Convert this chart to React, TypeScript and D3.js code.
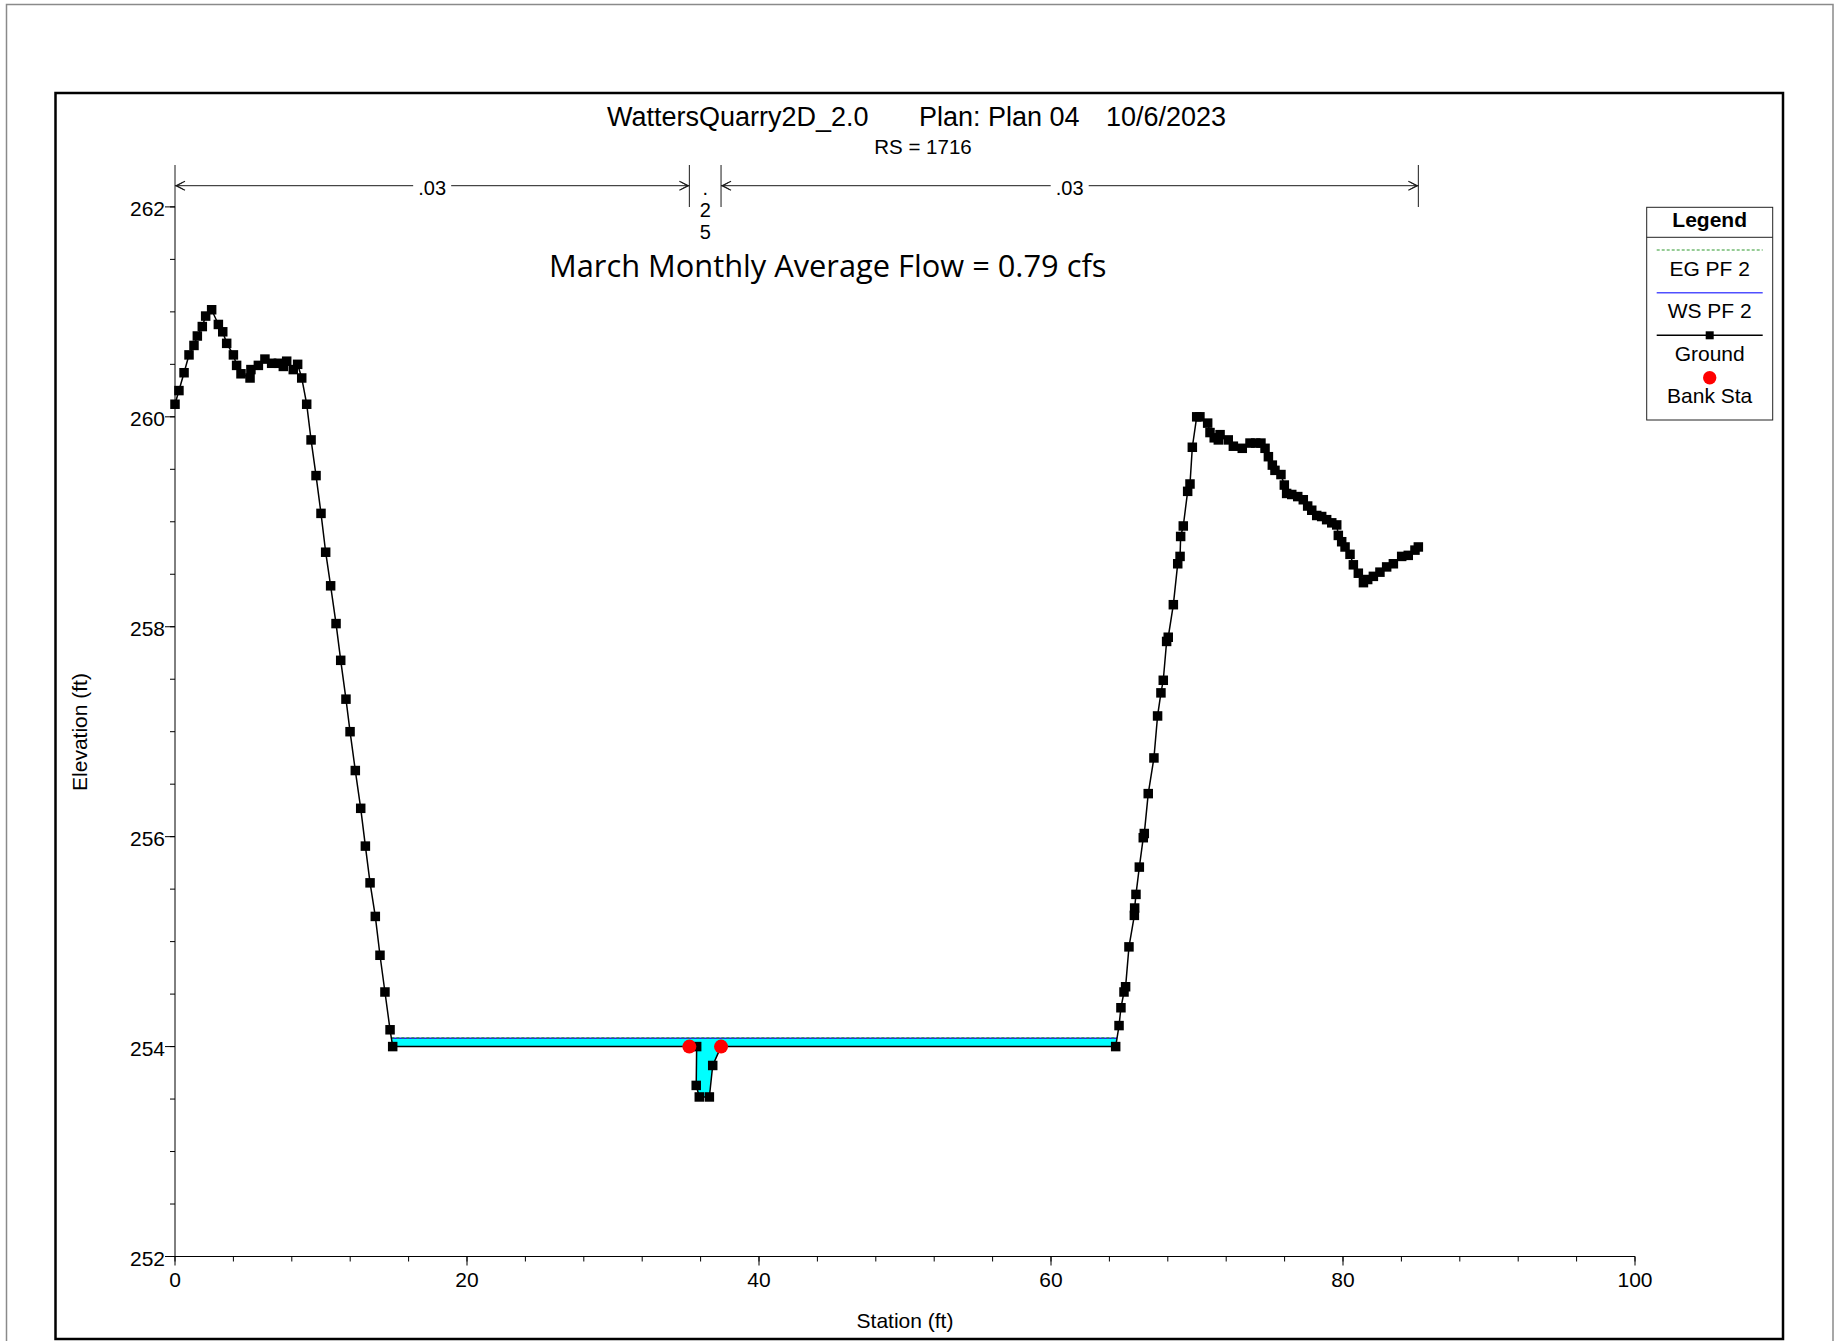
import React from 'react';
import * as d3 from 'd3';

// ---------- DATA ----------
const groundStation = [
  0.0, 0.27, 0.62, 0.96, 1.3, 1.53, 1.87, 2.1, 2.51, 2.97, 3.27, 3.54, 4.0, 4.22, 4.52, 5.14, 5.2, 5.71, 6.16, 6.62,
  7.08, 7.42, 7.65, 8.1, 8.4, 8.68, 9.02, 9.32, 9.66, 10.0, 10.32, 10.66, 11.03, 11.35, 11.71, 11.99, 12.35, 12.72,
  13.04, 13.36, 13.72, 14.04, 14.38, 14.73, 14.91,
  35.23, 35.73, 35.7, 35.91, 36.6, 36.83, 37.4,
  64.43, 64.66, 64.79, 65.0, 65.11, 65.34, 65.71, 65.73, 65.82, 66.05, 66.32, 66.39, 66.66, 67.05, 67.3, 67.53,
  67.69, 67.92, 68.03, 68.38, 68.68, 68.84, 68.88, 69.06, 69.36, 69.52, 69.68, 69.98, 70.2, 70.73, 70.89, 71.18,
  71.46, 71.58, 72.14, 72.49, 73.1, 73.63, 74.02, 74.38, 74.66, 74.89, 75.16, 75.34, 75.75, 75.98, 76.14, 76.49,
  76.9, 77.28, 77.58, 77.86, 78.2, 78.54, 78.88, 79.23, 79.57, 79.68, 79.91, 80.14, 80.48, 80.71, 81.05, 81.4,
  81.69, 82.08, 82.53, 82.99, 83.45, 84.02, 84.47, 84.93, 85.16,
];
const groundElev = [
  260.12, 260.25, 260.42, 260.59, 260.68, 260.77, 260.86, 260.96, 261.02, 260.88, 260.81, 260.7, 260.59, 260.49,
  260.41, 260.37, 260.45, 260.49, 260.55, 260.51, 260.51, 260.48, 260.53, 260.45, 260.5, 260.37, 260.12, 259.78,
  259.44, 259.08, 258.71, 258.39, 258.03, 257.68, 257.31, 257.0, 256.63, 256.27, 255.91, 255.56, 255.24, 254.87,
  254.52, 254.16, 254.0,
  254.0, 254.0, 253.63, 253.52, 253.52, 253.82, 254.0,
  254.0, 254.2, 254.37, 254.52, 254.57, 254.95, 255.25, 255.32, 255.45, 255.71, 255.99, 256.03, 256.41, 256.75,
  257.15, 257.37, 257.49, 257.86, 257.9, 258.21, 258.6, 258.67, 258.86, 258.96, 259.29, 259.36, 259.71, 260.0,
  260.0, 259.94, 259.85, 259.8, 259.78, 259.83, 259.78, 259.72, 259.7, 259.75, 259.75, 259.75, 259.7, 259.62,
  259.54, 259.49, 259.45, 259.35, 259.27, 259.26, 259.24, 259.21, 259.15, 259.11, 259.06, 259.05, 259.02, 258.99,
  258.97, 258.87, 258.81, 258.76, 258.69, 258.59, 258.51, 258.42, 258.45, 258.48, 258.52, 258.57, 258.6, 258.67,
  258.68, 258.73, 258.76,
];
const bankStations = [35.23, 37.4];
const bankElevs = [254.0, 254.0];
const wsElevation = 254.08;
const egElevation = 254.083;
const nBoundaries = [0, 35.23, 37.4, 85.16];
const nLabels = ['.03', '.25', '.03'];
const xTickValues = [0, 20, 40, 60, 80, 100];
const yTickValues = [252, 254, 256, 258, 260, 262];
const legendItems = ['EG PF 2', 'WS PF 2', 'Ground', 'Bank Sta'];

const titleParts = ['WattersQuarry2D_2.0', 'Plan: Plan 04', '10/6/2023'];
const subTitle = 'RS = 1716';
const annotation = 'March Monthly Average Flow = 0.79 cfs';

// ---------- LAYOUT ----------
const W = 1843;
const H = 1341;
const FONT = '"Liberation Sans", Arial, sans-serif';

const x = d3.scaleLinear().domain([0, 100]).range([175, 1635]);
const y = d3.scaleLinear().domain([252, 262]).range([1256.5, 206.9]);

function wetPolygons(st: number[], el: number[], ws: number) {
  const polys: [number, number][][] = [];
  let cur: [number, number][] | null = null;
  for (let i = 0; i < st.length; i++) {
    const wet = el[i] < ws;
    if (i === 0) {
      if (wet) cur = [[st[0], ws]];
    } else {
      const pw = el[i - 1] < ws;
      if (pw !== wet) {
        const t = (ws - el[i - 1]) / (el[i] - el[i - 1]);
        const xc = st[i - 1] + t * (st[i] - st[i - 1]);
        if (wet) {
          cur = [[xc, ws]];
        } else if (cur) {
          cur.push([xc, ws]);
          polys.push(cur);
          cur = null;
        }
      }
    }
    if (wet && cur) cur.push([st[i], el[i]]);
  }
  if (cur) {
    cur.push([st[st.length - 1], ws]);
    polys.push(cur);
  }
  return polys;
}

export default function App() {
  const groundPts: [number, number][] = groundStation.map((s, i) => [s, groundElev[i]]);
  const line = d3
    .line<[number, number]>()
    .x((d) => x(d[0]))
    .y((d) => y(d[1]));
  const polys = wetPolygons(groundStation, groundElev, wsElevation);

  const yMinor = d3.range(252, 262.001, 0.5);
  const xMinor = d3.range(0, 100.001, 4);

  const bracketY = 185.7;
  const bracketTop = 165;
  const bracketBot = 207;
  const arrowLen = 10;
  const arrowHalf = 4.5;
  const lineColor = '#1a1a1a';
  const mk = 9.5;

  const lgX = 1646.7;
  const lgW = 126;
  const lgCx = lgX + lgW / 2;

  return (
    <svg
      width={W}
      height={H}
      viewBox={`0 0 ${W} ${H}`}
      style={{ position: 'absolute', left: 0, top: 0, background: '#fff' }}
      fontFamily={FONT}
    >
      <rect x={0} y={0} width={W} height={H} fill="#fff" />
      {/* outer page border */}
      <rect x={6.5} y={4.5} width={1826.5} height={1400} fill="none" stroke="#8a8a8a" strokeWidth={1.5} />
      {/* chart frame */}
      <rect x={55.5} y={93} width={1727.5} height={1246} fill="none" stroke="#000" strokeWidth={2.5} />

      {/* titles */}
      <text x={607} y={126} fontSize={27}>{titleParts[0]}</text>
      <text x={919} y={126} fontSize={27}>{titleParts[1]}</text>
      <text x={1106} y={126} fontSize={27}>{titleParts[2]}</text>
      <text x={923} y={154} fontSize={20.5} textAnchor="middle">{subTitle}</text>
      <text x={549} y={277} fontSize={30.8} fontFamily='"Open Sans", "Noto Sans", sans-serif'>{annotation}</text>

      {/* n-value brackets */}
      {nBoundaries.map((b, i) => (
        <line key={'nb' + i} x1={x(b)} x2={x(b)} y1={bracketTop} y2={bracketBot} stroke={lineColor} strokeWidth={1} />
      ))}
      {nLabels.map((lab, i) => {
        const x0 = x(nBoundaries[i]);
        const x1 = x(nBoundaries[i + 1]);
        const cx = (x0 + x1) / 2;
        if (x1 - x0 < 60) {
          const chars = lab.split('');
          return (
            <g key={'nl' + i}>
              {chars.map((c, k) => (
                <text key={k} x={cx} y={194.7 + k * 22} fontSize={20} textAnchor="middle">{c}</text>
              ))}
            </g>
          );
        }
        const gap = 19;
        return (
          <g key={'nl' + i}>
            <line x1={x0} x2={cx - gap} y1={bracketY} y2={bracketY} stroke={lineColor} strokeWidth={1} />
            <line x1={cx + gap} x2={x1} y1={bracketY} y2={bracketY} stroke={lineColor} strokeWidth={1} />
            <polyline
              points={`${x0 + arrowLen},${bracketY - arrowHalf} ${x0 + 1},${bracketY} ${x0 + arrowLen},${bracketY + arrowHalf}`}
              fill="none"
              stroke={lineColor}
              strokeWidth={1.2}
            />
            <polyline
              points={`${x0 + arrowLen - 2},${bracketY - arrowHalf + 1} ${x0 + 2},${bracketY}  ${x0 + arrowLen - 2},${bracketY + arrowHalf - 1}`}
              fill="none"
              stroke={lineColor}
              strokeWidth={0.8}
            />
            <polyline
              points={`${x1 - arrowLen},${bracketY - arrowHalf} ${x1 - 1},${bracketY} ${x1 - arrowLen},${bracketY + arrowHalf}`}
              fill="none"
              stroke={lineColor}
              strokeWidth={1.2}
            />
            <polyline
              points={`${x1 - arrowLen + 2},${bracketY - arrowHalf + 1} ${x1 - 2},${bracketY} ${x1 - arrowLen + 2},${bracketY + arrowHalf - 1}`}
              fill="none"
              stroke={lineColor}
              strokeWidth={0.8}
            />
            <text x={cx} y={195} fontSize={20} textAnchor="middle">{lab}</text>
          </g>
        );
      })}

      {/* axes */}
      <line x1={x(0)} x2={x(0)} y1={y(252)} y2={y(262)} stroke="#000" strokeWidth={1} />
      <line x1={x(0)} x2={x(100)} y1={y(252)} y2={y(252)} stroke="#000" strokeWidth={1} />
      {yMinor.map((v) => (
        <line key={'ym' + v} x1={x(0) - 5} x2={x(0)} y1={y(v)} y2={y(v)} stroke="#000" strokeWidth={1} />
      ))}
      {yTickValues.map((v) => (
        <g key={'yt' + v}>
          <line x1={x(0) - 10} x2={x(0)} y1={y(v)} y2={y(v)} stroke="#000" strokeWidth={1} />
          <text x={x(0) - 10} y={y(v) + 9.5} fontSize={21} textAnchor="end">{v}</text>
        </g>
      ))}
      {xMinor.map((v) => (
        <line key={'xm' + v} x1={x(v)} x2={x(v)} y1={y(252)} y2={y(252) + 5} stroke="#000" strokeWidth={1} />
      ))}
      {xTickValues.map((v) => (
        <g key={'xt' + v}>
          <line x1={x(v)} x2={x(v)} y1={y(252)} y2={y(252) + 9} stroke="#000" strokeWidth={1} />
          <text x={x(v)} y={1287} fontSize={21} textAnchor="middle">{v}</text>
        </g>
      ))}
      <text x={905} y={1328} fontSize={21} textAnchor="middle">Station (ft)</text>
      <text transform="translate(87,732) rotate(-90)" fontSize={21} textAnchor="middle">Elevation (ft)</text>

      {/* water */}
      {polys.map((p, i) => (
        <path key={'wp' + i} d={line(p) + 'Z'} fill="#00ffff" stroke="none" />
      ))}
      {polys.map((p, i) => (
        <line key={'ws' + i} x1={x(p[0][0])} x2={x(p[p.length - 1][0])} y1={y(wsElevation)} y2={y(wsElevation)} stroke="#2020ff" strokeWidth={1.5} />
      ))}
      {polys.map((p, i) => (
        <line key={'eg' + i} x1={x(p[0][0])} x2={x(p[p.length - 1][0])} y1={y(egElevation)} y2={y(egElevation)} stroke="#2e9a2e" strokeWidth={1.2} strokeDasharray="3,2" />
      ))}

      {/* ground */}
      <path d={line(groundPts) || ''} fill="none" stroke="#000" strokeWidth={1.5} />
      {groundPts.map((d, i) => (
        <rect key={'gp' + i} x={x(d[0]) - mk / 2} y={y(d[1]) - mk / 2} width={mk} height={mk} fill="#000" />
      ))}
      {bankStations.map((s, i) => (
        <circle key={'bs' + i} cx={x(s)} cy={y(bankElevs[i])} r={7} fill="#ff0000" />
      ))}

      {/* legend */}
      <rect x={lgX} y={207.3} width={lgW} height={212.7} fill="#fff" stroke="#222" strokeWidth={1} />
      <line x1={lgX} x2={lgX + lgW} y1={237.3} y2={237.3} stroke="#222" strokeWidth={1} />
      <text x={lgCx} y={227} fontSize={21} fontWeight="bold" textAnchor="middle">Legend</text>
      <line x1={1656.7} x2={1762.7} y1={250} y2={250} stroke="#2e9a2e" strokeWidth={1.2} strokeDasharray="3,2" />
      <text x={lgCx} y={276} fontSize={21} textAnchor="middle">{legendItems[0]}</text>
      <line x1={1656.7} x2={1762.7} y1={292.7} y2={292.7} stroke="#5050ff" strokeWidth={1.5} />
      <text x={lgCx} y={318.3} fontSize={21} textAnchor="middle">{legendItems[1]}</text>
      <line x1={1656.7} x2={1762.7} y1={335.3} y2={335.3} stroke="#000" strokeWidth={1.5} />
      <rect x={lgCx - 4} y={335.3 - 4} width={8} height={8} fill="#000" />
      <text x={lgCx} y={360.7} fontSize={21} textAnchor="middle">{legendItems[2]}</text>
      <circle cx={lgCx} cy={377.7} r={6.7} fill="#ff0000" />
      <text x={lgCx} y={403.3} fontSize={21} textAnchor="middle">{legendItems[3]}</text>
    </svg>
  );
}
